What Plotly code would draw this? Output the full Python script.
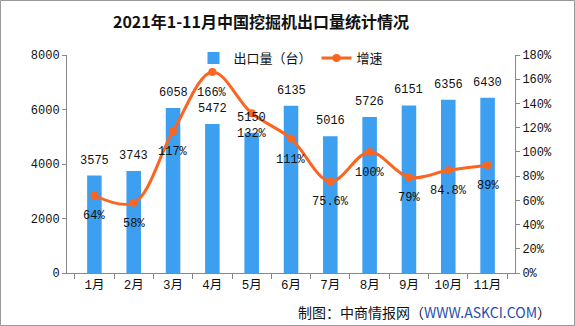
import plotly.graph_objects as go

months = ["1月", "2月", "3月", "4月", "5月", "6月", "7月", "8月", "9月", "10月", "11月"]
exports = [3575, 3743, 6058, 5472, 5150, 6135, 5016, 5726, 6151, 6356, 6430]
growth = [64, 58, 117, 166, 132, 111, 75.6, 100, 79, 84.8, 89]
growth_labels = ["64%", "58%", "117%", "166%", "132%", "111%", "75.6%", "100%", "79%", "84.8%", "89%"]

W, H = 575, 326
L, R, T, B = 67, 60, 55, 53
pw, ph = W - L - R, H - T - B

num_font = "Liberation Mono, Noto Sans CJK SC, monospace"
blue = "#3d9ff0"
orange = "#fa6520"

fig = go.Figure()
fig.add_trace(go.Bar(
    x=months, y=exports, name="出口量（台）",
    marker=dict(color=blue, line=dict(width=0)),
    yaxis="y",
))
fig.add_trace(go.Scatter(
    x=months, y=growth, name="增速", mode="lines+markers",
    line=dict(color=orange, width=3, shape="spline", smoothing=1.0),
    marker=dict(color=orange, size=8),
    cliponaxis=False, yaxis="y2",
))

lab_font = dict(family=num_font, size=12, color="#111")
for m, v in zip(months, exports):
    fig.add_annotation(x=m, y=v, xref="x", yref="y", text=str(v), showarrow=False,
                       yanchor="middle", yshift=15, font=lab_font)
for m, v, t in zip(months, growth, growth_labels):
    fig.add_annotation(x=m, y=v, xref="x", yref="y2", text=t, showarrow=False,
                       yanchor="middle", yshift=-21, font=lab_font)

axis_common = dict(showgrid=False, zeroline=False, showline=True, linecolor="#888", linewidth=1,
                   ticks="outside", ticklen=4, tickcolor="#888",
                   tickfont=dict(family=num_font, size=12, color="#111"))

fig.update_layout(
    width=W, height=H,
    margin=dict(l=L, r=R, t=T, b=B),
    paper_bgcolor="white", plot_bgcolor="white",
    bargap=0.63,
    title=dict(text="<b>2021年1-11月中国挖掘机出口量统计情况</b>", xref="container", x=261 / W,
               xanchor="center", y=1 - 22 / H, yanchor="middle",
               font=dict(family="Noto Sans CJK SC", size=16, color="#111")),
    legend=dict(orientation="h", x=0.5, xanchor="center", y=1 - 3 / ph, yanchor="middle",
                bgcolor="rgba(0,0,0,0)", font=dict(family="Noto Sans CJK SC", size=13, color="#111"),
                traceorder="normal"),
    xaxis=dict(axis_common, tickson="boundaries", ticklen=5,
               tickfont=dict(family=num_font, size=12.5, color="#111")),
    yaxis=dict(axis_common, range=[0, 8000], dtick=2000),
    yaxis2=dict(axis_common, overlaying="y", side="right", range=[0, 180], dtick=20, ticksuffix="%"),
    showlegend=True,
)

fig.add_annotation(text="制图：中商情报网（<span style='color:#1f4fa8'>WWW.ASKCI.COM</span>）",
                   xref="paper", yref="paper", x=1 + 38 / pw, xanchor="right",
                   y=-(312 - (T + ph)) / ph, yanchor="middle", showarrow=False,
                   font=dict(family="Noto Sans CJK SC", size=14, color="#111"))

fig.add_shape(type="rect", xref="paper", yref="paper",
              x0=-(L - 0.5) / pw, x1=1 + (R - 0.5) / pw,
              y0=-(B - 0.5) / ph, y1=1 + (T - 0.5) / ph,
              line=dict(color="#999", width=1), layer="below")

fig.write_html("out.html")
